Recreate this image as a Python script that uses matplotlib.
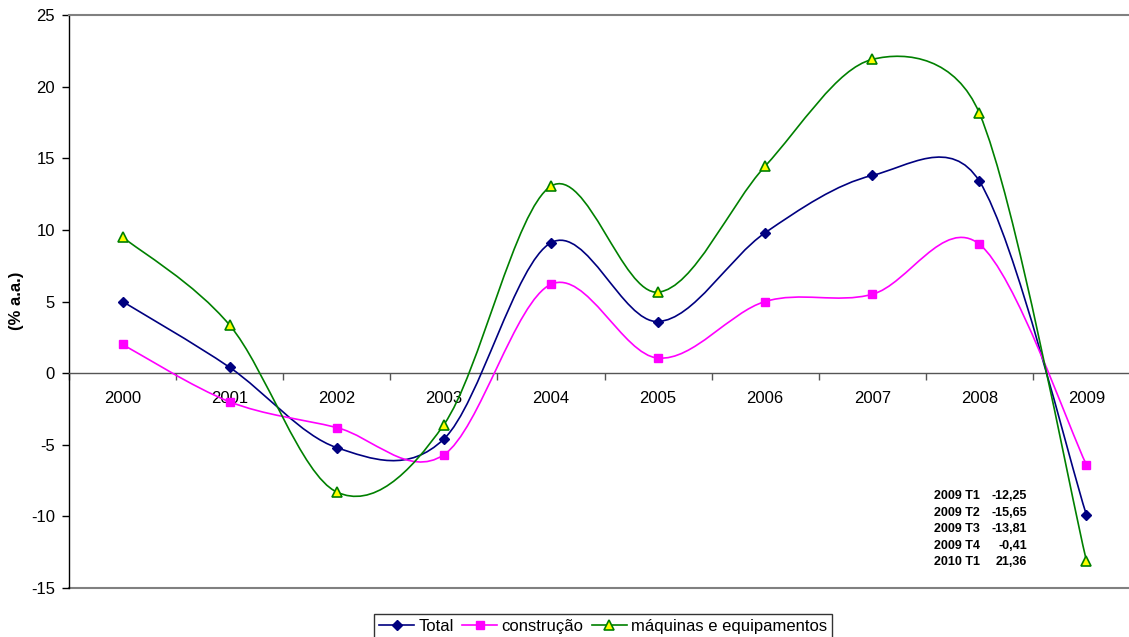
import numpy as np
import matplotlib
matplotlib.use("Agg")
import matplotlib.pyplot as plt
from matplotlib.path import Path
from matplotlib.patches import PathPatch
from matplotlib.lines import Line2D

plt.rcParams['font.family'] = ['Liberation Sans', 'DejaVu Sans']
plt.rcParams['axes.unicode_minus'] = False

years = ['2000', '2001', '2002', '2003', '2004', '2005', '2006', '2007', '2008', '2009']
total = [5.0, 0.4, -5.2, -4.6, 9.1, 3.6, 9.8, 13.8, 13.4, -9.9]
construcao = [2.0, -2.0, -3.8, -5.7, 6.2, 1.05, 5.0, 5.5, 9.0, -6.4]
maquinas = [9.5, 3.35, -8.3, -3.6, 13.05, 5.65, 14.45, 21.9, 18.15, -13.1]
series_names = ['Total', 'construção', 'máquinas e equipamentos']
ann_labels = ['2009 T1', '2009 T2', '2009 T3', '2009 T4', '2010 T1']
ann_values = ['-12,25', '-15,65', '-13,81', '-0,41', '21,36']

W, H = 1129, 637
fig = plt.figure(figsize=(W / 100, H / 100), dpi=100)
ax = fig.add_axes([69 / W, 49 / H, 1071 / W, 573 / H])
ax.set_xlim(-0.5, len(years) - 0.5)
ax.set_ylim(-15, 25)


def smooth_patch(ax, xs, ys, color, lw):
    """Spreadsheet-style smoothed line: Bezier segments with 1/6 tangents,
    control offsets limited to half the segment length (display space)."""
    pts = ax.transData.transform(np.column_stack([xs, ys]).astype(float))
    n = len(pts)
    verts = [pts[0]]
    codes = [Path.MOVETO]
    for i in range(n - 1):
        p0 = pts[i - 1] if i > 0 else pts[i]
        p1 = pts[i]
        p2 = pts[i + 1]
        p3 = pts[i + 2] if i + 2 < n else pts[i + 1]
        d12 = np.linalg.norm(p2 - p1)
        d02 = np.linalg.norm(p2 - p0)
        d13 = np.linalg.norm(p3 - p1)
        f = 1 / 6
        g = 1 / 6
        if d02 / 6 >= d12 / 2 and d02 > 0:
            f = d12 / 2 / d02
        if d13 / 6 >= d12 / 2 and d13 > 0:
            g = d12 / 2 / d13
        c1 = p1 + (p2 - p0) * f
        c2 = p2 - (p3 - p1) * g
        verts += [c1, c2, p2]
        codes += [Path.CURVE4] * 3
    verts = ax.transData.inverted().transform(np.array(verts))
    patch = PathPatch(Path(verts, codes), facecolor='none', edgecolor=color,
                      lw=lw, zorder=3, capstyle='round', joinstyle='round')
    ax.add_patch(patch)


x = np.arange(len(years))
styles = [
    dict(color='#000080', marker='D', mfc='#000080', mec='#000080', ms=5.5),
    dict(color='#FF00FF', marker='s', mfc='#FF00FF', mec='#FF00FF', ms=6),
    dict(color='#008000', marker='^', mfc='#FFFF00', mec='#008000', ms=7, mew=1.2),
]
handles = []
for data, st, name in zip([total, construcao, maquinas], styles, series_names):
    smooth_patch(ax, x, data, st['color'], 1.2)
    ax.plot(x, data, linestyle='none', zorder=4, **st)
    handles.append(Line2D([], [], lw=1.2, label=name, **st))

# frame
ax.spines['right'].set_visible(False)
ax.spines['top'].set_color('#808080')
ax.spines['top'].set_linewidth(1.5)
ax.spines['left'].set_color('black')
ax.spines['left'].set_linewidth(1.0)
ax.spines['bottom'].set_position(('data', 0))
ax.spines['bottom'].set_color('#555555')
ax.spines['bottom'].set_linewidth(1.0)
ax.axhline(-15, color='#808080', lw=1.5, clip_on=False, zorder=1)

ax.set_yticks(np.arange(-15, 26, 5))
ax.tick_params(axis='y', direction='out', length=5, width=1, pad=5, labelsize=12)

ax.set_xticks(np.arange(-0.5, len(years), 1))
ax.set_xticklabels([])
ax.set_xticks(x, minor=True)
ax.set_xticklabels(years, minor=True)
ax.tick_params(axis='x', which='major', direction='out', length=5, width=1, color='#555555')
ax.tick_params(axis='x', which='minor', length=0, pad=13, labelsize=12)

fig.text(17 / W, 1 - 301 / H, '(% a.a.)', rotation=90, ha='center', va='center',
         fontsize=12, fontweight='bold')

ys = [496, 513, 529.5, 546, 562]
for lab, val, yy in zip(ann_labels, ann_values, ys):
    fig.text(934 / W, 1 - yy / H, lab, ha='left', va='center', fontsize=9, fontweight='bold')
    fig.text(1027 / W, 1 - yy / H, val, ha='right', va='center', fontsize=9, fontweight='bold')

leg = fig.legend(handles=handles, loc='upper center', bbox_to_anchor=(603 / W, 1 - 614 / H),
                 ncol=3, frameon=True, fancybox=False, shadow=False, fontsize=12,
                 handlelength=2.1, handletextpad=0.25, columnspacing=0.5,
                 borderpad=0.3, borderaxespad=0)
leg.get_frame().set_edgecolor('black')
leg.get_frame().set_linewidth(1.0)

fig.savefig('out.png', dpi=100)
